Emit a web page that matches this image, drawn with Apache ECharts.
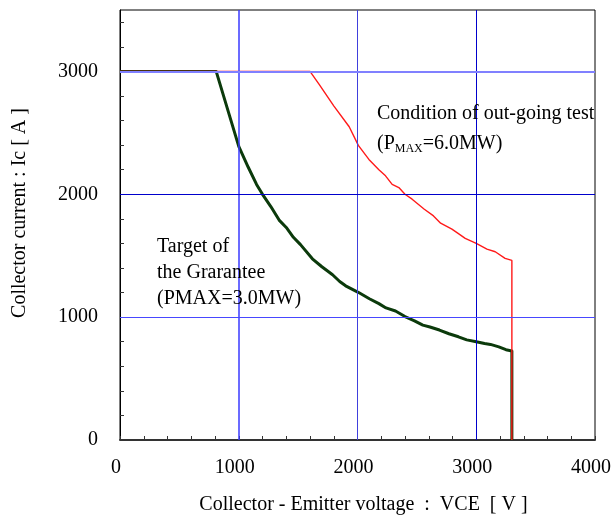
<!DOCTYPE html>
<html>
<head>
<meta charset="utf-8">
<script src="https://cdn.jsdelivr.net/npm/echarts@6/dist/echarts.min.js"></script>
<style>
  html, body { margin: 0; padding: 0; background: #fff; }
  #chart { width: 614px; height: 520px; }
</style>
</head>
<body>
<div id="chart"></div>
<script>
// Safe operating area: Collector current Ic [A] vs Collector-Emitter voltage VCE [V]

// Target of the guarantee, PMAX = 3.0 MW
const guaranteeCurve = [
  [0, 3000], [810, 3000], [1000, 2390], [1080, 2220], [1150, 2080], [1200, 2000],
  [1270, 1900], [1340, 1790], [1400, 1730], [1460, 1650], [1520, 1590], [1620, 1475],
  [1700, 1410], [1790, 1345], [1850, 1290], [1900, 1255], [2010, 1200], [2100, 1150],
  [2180, 1110], [2240, 1075], [2320, 1050], [2400, 1005], [2480, 970], [2550, 935],
  [2610, 920], [2690, 895], [2770, 865], [2850, 840], [2920, 815], [3000, 800],
  [3070, 785], [3120, 778], [3190, 758], [3250, 735], [3300, 725], [3300, 0]
];

// Condition of the out-going test, PMAX = 6.0 MW
const outgoingCurve = [
  [0, 3000], [1600, 3000], [1680, 2890], [1800, 2720], [1930, 2550], [2007, 2398],
  [2096, 2284], [2180, 2200], [2236, 2150], [2292, 2081], [2348, 2055], [2400, 2000],
  [2460, 1960], [2560, 1880], [2640, 1824], [2700, 1765], [2795, 1716], [2850, 1680],
  [2907, 1641], [3000, 1600], [3090, 1554], [3160, 1532], [3243, 1479], [3300, 1462],
  [3300, 0]
];

// Reference grid lines drawn at these axis values
const xGridValues = [1000, 2000, 3000];
const yGridValues = [1000, 2000, 3000];

const xAxisTitle = 'Collector - Emitter voltage  :  VCE  [ V ]';
const yAxisTitle = 'Collector current : Ic [ A ]';

const SERIF = "'Liberation Serif', 'Times New Roman', serif";

const xGridStyles = [
  { color: '#3a3aff', width: 1.5, type: 'solid' },
  { color: '#4040dd', width: 1, type: 'solid' },
  { color: '#0000cc', width: 1, type: 'solid' }
];
const yGridStyles = [
  { color: '#4848ff', width: 1.2, type: 'solid' },
  { color: '#0000cc', width: 1, type: 'solid' },
  { color: '#8080ff', width: 2, type: 'solid' }
];

const gridMarks = []
  .concat(xGridValues.map((v, i) => ({ xAxis: v, lineStyle: xGridStyles[i] })))
  .concat(yGridValues.map((v, i) => ({ yAxis: v, lineStyle: yGridStyles[i] })));

const thousandsOnly = v => (v % 1000 === 0 ? String(v) : '');

const chart = echarts.init(document.getElementById('chart'), null, { renderer: 'canvas' });

chart.setOption({
  animation: false,
  backgroundColor: '#ffffff',
  textStyle: { fontFamily: SERIF },
  grid: {
    left: 120, right: 17, top: 10, bottom: 78,
    show: true, borderColor: '#000', borderWidth: 1, backgroundColor: 'transparent'
  },
  xAxis: {
    type: 'value', min: 0, max: 4000, interval: 200,
    name: xAxisTitle, nameLocation: 'middle', nameGap: 55,
    nameTextStyle: { fontFamily: SERIF, fontSize: 20, color: '#000', padding: [0, 0, 0, 12] },
    axisLine: { show: true, lineStyle: { color: '#333', width: 2 } },
    axisTick: { show: true, inside: true, length: 4, lineStyle: { color: '#333', width: 1 } },
    axisLabel: {
      formatter: thousandsOnly, fontFamily: SERIF, fontSize: 20, color: '#000',
      margin: 18, padding: [0, 8, 0, 0]
    },
    splitLine: { show: false }
  },
  yAxis: {
    type: 'value', min: 0, max: 3500, interval: 200,
    name: yAxisTitle, nameLocation: 'middle', nameGap: 90, nameRotate: 90,
    nameTextStyle: { fontFamily: SERIF, fontSize: 20, color: '#000', padding: [0, 0, 0, 24] },
    axisLine: { show: true, lineStyle: { color: '#000', width: 1 } },
    axisTick: { show: true, inside: true, length: 4, lineStyle: { color: '#333', width: 1 } },
    axisLabel: {
      formatter: thousandsOnly, fontFamily: SERIF, fontSize: 20, color: '#000',
      margin: 22, showMaxLabel: false
    },
    splitLine: { show: false }
  },
  series: [
    {
      name: 'grid',
      type: 'line',
      data: [],
      silent: true,
      z: 1,
      markLine: {
        silent: true,
        symbol: 'none',
        label: { show: false },
        lineStyle: { type: 'solid' },
        emphasis: { disabled: true },
        animation: false,
        data: gridMarks
      }
    },
    {
      name: 'Target of the Grarantee',
      type: 'line',
      data: guaranteeCurve,
      showSymbol: false,
      z: 3,
      lineStyle: { color: '#0b3a0b', width: 3, join: 'round' }
    },
    {
      name: 'Condition of out-going test',
      type: 'line',
      data: outgoingCurve,
      showSymbol: false,
      z: 4,
      lineStyle: { color: '#ff1a1a', width: 1.4 }
    }
  ],
  graphic: [
    {
      type: 'text', left: 377, top: 104, z: 10,
      style: { text: 'Condition of out-going test', font: '20px ' + SERIF, fill: '#000' }
    },
    {
      type: 'text', left: 377, top: 134, z: 10,
      style: {
        text: '(P{sub|MAX}=6.0MW)', font: '20px ' + SERIF, fill: '#000',
        rich: { sub: { fontSize: 12, fontFamily: SERIF, padding: [10, 0, 0, 0] } }
      }
    },
    {
      type: 'text', left: 157, top: 237, z: 10,
      style: { text: 'Target of', font: '20px ' + SERIF, fill: '#000' }
    },
    {
      type: 'text', left: 157, top: 263, z: 10,
      style: { text: 'the Grarantee', font: '20px ' + SERIF, fill: '#000' }
    },
    {
      type: 'text', left: 157, top: 289, z: 10,
      style: { text: '(PMAX=3.0MW)', font: '20px ' + SERIF, fill: '#000' }
    }
  ]
});
</script>
</body>
</html>
